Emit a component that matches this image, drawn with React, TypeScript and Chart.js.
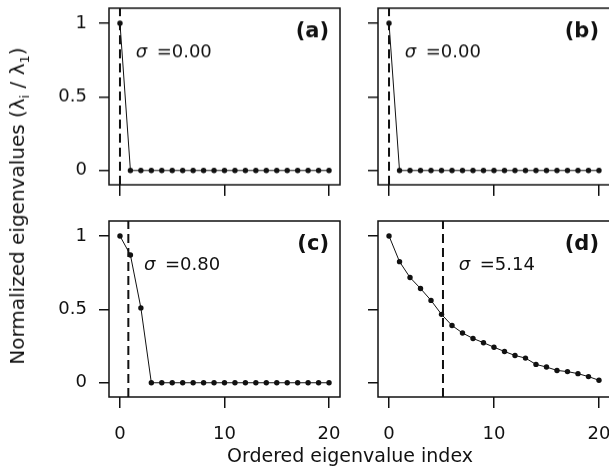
import React, { useEffect, useRef } from "react";
import { Chart, registerables } from "chart.js";

Chart.register(...registerables);

// ---- data ----
const eigenIndex = [0, 1, 2, 3, 4, 5, 6, 7, 8, 9, 10, 11, 12, 13, 14, 15, 16, 17, 18, 19, 20];
const valuesA = [1, 0, 0, 0, 0, 0, 0, 0, 0, 0, 0, 0, 0, 0, 0, 0, 0, 0, 0, 0, 0];
const valuesB = [1, 0, 0, 0, 0, 0, 0, 0, 0, 0, 0, 0, 0, 0, 0, 0, 0, 0, 0, 0, 0];
const valuesC = [1, 0.87, 0.51, 0, 0, 0, 0, 0, 0, 0, 0, 0, 0, 0, 0, 0, 0, 0, 0, 0, 0];
const valuesD = [1, 0.825, 0.717, 0.642, 0.561, 0.466, 0.39, 0.339, 0.302, 0.273, 0.242, 0.213, 0.186, 0.168, 0.125, 0.107, 0.084, 0.076, 0.062, 0.042, 0.017];
const sigmas = [0.0, 0.0, 0.8, 5.14];
const panelLabels = ["(a)", "(b)", "(c)", "(d)"];
const xTickValues = [0, 10, 20];
const xTickLabels = ["0", "10", "20"];
const yTickValues = [0, 0.5, 1];
const yTickLabels = ["0", "0.5", "1"];
const xTitle = "Ordered eigenvalue index";

const X_MIN = -1.05;
const X_MAX = 21.05;
const Y_MIN = -0.097;
const Y_MAX = 1.102;
const FONT = "'DejaVu Sans', sans-serif";
const INK = "#111";

type Panel = {
  values: number[];
  sigma: number;
  label: string;
  area: { l: number; t: number; r: number; b: number };
  showX: boolean;
  showY: boolean;
};

const panels: Panel[] = [
  { values: valuesA, sigma: sigmas[0], label: panelLabels[0], area: { l: 108.5, t: 8.3, r: 340, b: 184.5 }, showX: false, showY: true },
  { values: valuesB, sigma: sigmas[1], label: panelLabels[1], area: { l: 378.3, t: 8.3, r: 610.5, b: 184.5 }, showX: false, showY: false },
  { values: valuesC, sigma: sigmas[2], label: panelLabels[2], area: { l: 108.5, t: 220.5, r: 340, b: 397 }, showX: true, showY: true },
  { values: valuesD, sigma: sigmas[3], label: panelLabels[3], area: { l: 378.3, t: 220.5, r: 610.5, b: 397 }, showX: true, showY: false },
];

const Y_AXIS_W = 100;
const X_AXIS_H = 60;
const PAD = 40;

const decorPlugin = {
  id: "decor",
  afterDatasetsDraw(chart: any, _args: any, opts: any) {
    const { ctx, chartArea } = chart;
    const xs = chart.scales.x;
    const ys = chart.scales.y;
    ctx.save();
    // box
    ctx.strokeStyle = INK;
    ctx.lineWidth = 1.5;
    ctx.strokeRect(chartArea.left, chartArea.top, chartArea.right - chartArea.left, chartArea.bottom - chartArea.top);
    // sigma annotation
    const tx = xs.getPixelForValue(opts.sigma + 1.5);
    const ty = ys.getPixelForValue(0.8);
    ctx.fillStyle = INK;
    ctx.textBaseline = "middle";
    ctx.textAlign = "left";
    ctx.font = `italic 18px ${FONT}`;
    ctx.fillText("σ", tx, ty);
    ctx.font = `18px ${FONT}`;
    ctx.fillText("=" + opts.sigma.toFixed(2), tx + 21, ty);
    // panel label
    ctx.font = `bold 21px ${FONT}`;
    ctx.textAlign = "right";
    ctx.fillText(opts.label, chartArea.right - 11, chartArea.top + 24);
    ctx.restore();
  },
};

function PanelChart({ p }: { p: Panel }) {
  const ref = useRef<HTMLCanvasElement>(null);
  const w = p.area.r - p.area.l + Y_AXIS_W + PAD;
  const h = p.area.b - p.area.t + X_AXIS_H + PAD;
  useEffect(() => {
    if (!ref.current) return;
    const chart = new Chart(ref.current, {
      type: "line",
      data: {
        datasets: [
          {
            data: eigenIndex.map((x, i) => ({ x, y: p.values[i] })),
            borderColor: INK,
            borderWidth: 1,
            pointRadius: 2.7,
            pointBackgroundColor: INK,
            pointBorderColor: INK,
            pointBorderWidth: 0,
            tension: 0,
          },
          {
            data: [
              { x: p.sigma, y: Y_MIN },
              { x: p.sigma, y: Y_MAX },
            ],
            borderColor: INK,
            borderWidth: 2,
            borderDash: [9, 5],
            pointRadius: 0,
          },
        ],
      },
      options: {
        animation: false,
        responsive: false,
        devicePixelRatio: 1,
        events: [],
        layout: { padding: { left: 0, top: PAD, right: PAD, bottom: 0 } },
        plugins: {
          legend: { display: false },
          tooltip: { enabled: false },
          decor: { sigma: p.sigma, label: p.label },
        } as any,
        scales: {
          x: {
            type: "linear",
            min: X_MIN,
            max: X_MAX,
            afterBuildTicks: (s: any) => {
              s.ticks = xTickValues.map((v) => ({ value: v }));
            },
            afterFit: (s: any) => {
              s.height = X_AXIS_H;
            },
            border: { display: false },
            grid: { drawOnChartArea: false, drawTicks: true, tickLength: 11, color: INK, lineWidth: 1.5 },
            ticks: {
              color: p.showX ? INK : "transparent",
              font: { family: FONT, size: 18 },
              padding: 16,
              maxRotation: 0,
              autoSkip: false,
              callback: (v: any) => {
                const k = xTickValues.indexOf(Number(v));
                return k >= 0 ? xTickLabels[k] : "";
              },
            },
          },
          y: {
            type: "linear",
            min: Y_MIN,
            max: Y_MAX,
            afterBuildTicks: (s: any) => {
              s.ticks = yTickValues.map((v) => ({ value: v }));
            },
            afterFit: (s: any) => {
              s.width = Y_AXIS_W;
            },
            border: { display: false },
            grid: { drawOnChartArea: false, drawTicks: true, tickLength: 10, color: INK, lineWidth: 1.5 },
            ticks: {
              color: p.showY ? INK : "transparent",
              font: { family: FONT, size: 18 },
              padding: 12,
              autoSkip: false,
              callback: (v: any) => {
                const k = yTickValues.indexOf(Number(v));
                return k >= 0 ? yTickLabels[k] : "";
              },
            },
          },
        },
      },
      plugins: [decorPlugin],
    } as any);
    return () => chart.destroy();
  }, []);
  return (
    <canvas
      ref={ref}
      width={w}
      height={h}
      style={{
        position: "absolute",
        left: p.area.l - Y_AXIS_W,
        top: p.area.t - PAD,
        width: w,
        height: h,
      }}
    />
  );
}

export default function App() {
  const sub = { fontSize: "0.65em" };
  return (
    <div
      style={{
        position: "absolute",
        left: 0,
        top: 0,
        width: 609,
        height: 473,
        overflow: "hidden",
        background: "#fff",
        fontFamily: FONT,
        color: INK,
      }}
    >
      {panels.map((p, i) => (
        <PanelChart key={i} p={p} />
      ))}
      <div
        style={{
          position: "absolute",
          left: 350,
          top: 455,
          transform: "translate(-50%, -50%)",
          whiteSpace: "nowrap",
          fontSize: 19,
          lineHeight: 1,
        }}
      >
        {xTitle}
      </div>
      <div
        style={{
          position: "absolute",
          left: 19,
          top: 206,
          transform: "translate(-50%, -50%) rotate(-90deg)",
          whiteSpace: "nowrap",
          fontSize: 20,
          lineHeight: 1,
        }}
      >
        Normalized eigenvalues (λ<sub style={sub}>i</sub> / λ<sub style={sub}>1</sub>)
      </div>
    </div>
  );
}
